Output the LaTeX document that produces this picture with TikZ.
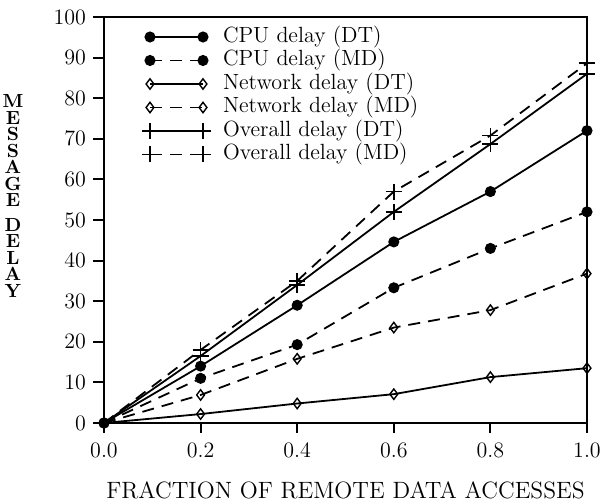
\documentclass[tikz,border=0pt]{standalone}
\usepackage{tikz}
\usetikzlibrary{plotmarks}
\tikzstyle{dtline}=[line width=0.9pt]
\tikzstyle{mdline}=[line width=0.9pt, dash pattern=on 6pt off 4pt]
\tikzstyle{cpumark}=[mark=*, mark size=2.3pt, mark options={solid, fill=black}]
\tikzstyle{netmark}=[mark=diamond, mark size=2.6pt, mark options={solid, fill=white, line width=0.7pt}]
\tikzstyle{allmark}=[mark=+, mark size=4pt, mark options={solid, line width=0.8pt}]
\tikzstyle{ticklabel}=[font=\fontsize{11}{13}\selectfont, inner sep=0pt]
\tikzstyle{keytext}=[font=\fontsize{11}{13}\selectfont, inner sep=0pt, anchor=west]

\begin{document}
\begin{tikzpicture}[x=0.5pt, y=0.5pt, line width=1pt]
\useasboundingbox (0,0) rectangle (601,502);
\node[font=\fontsize{9.5}{8.25}\selectfont\bfseries, align=center, inner sep=0pt] (ylab) at (13,306)
    {M\\E\\S\\S\\A\\G\\E\\[4pt]D\\E\\L\\A\\Y};
\node[font=\fontsize{11.8}{14}\selectfont, inner sep=0pt] (xlab) at (345.5,12) {FRACTION OF REMOTE DATA ACCESSES};

\begin{scope}[shift={(104,79)}, x=241.5pt, y=2.03pt]
    \draw (0,0) rectangle (1,100);
    \draw
        (0,0)--([xshift=-5.5pt]0,0) (0,10)--([xshift=-5.5pt]0,10)
        (0,20)--([xshift=-5.5pt]0,20) (0,30)--([xshift=-5.5pt]0,30)
        (0,40)--([xshift=-5.5pt]0,40) (0,50)--([xshift=-5.5pt]0,50)
        (0,60)--([xshift=-5.5pt]0,60) (0,70)--([xshift=-5.5pt]0,70)
        (0,80)--([xshift=-5.5pt]0,80) (0,90)--([xshift=-5.5pt]0,90)
        (0,100)--([xshift=-5.5pt]0,100)
    ;
    \draw
        (0,0)--([yshift=-5pt]0,0) (0.2,0)--([yshift=-5pt]0.2,0)
        (0.4,0)--([yshift=-5pt]0.4,0) (0.6,0)--([yshift=-5pt]0.6,0)
        (0.8,0)--([yshift=-5pt]0.8,0) (1,0)--([yshift=-5pt]1,0)
    ;
    \node[ticklabel, left] (y0) at ([xshift=-8.5pt]0,0) {0};
    \node[ticklabel, left] (y10) at ([xshift=-8.5pt]0,10) {10};
    \node[ticklabel, left] (y20) at ([xshift=-8.5pt]0,20) {20};
    \node[ticklabel, left] (y30) at ([xshift=-8.5pt]0,30) {30};
    \node[ticklabel, left] (y40) at ([xshift=-8.5pt]0,40) {40};
    \node[ticklabel, left] (y50) at ([xshift=-8.5pt]0,50) {50};
    \node[ticklabel, left] (y60) at ([xshift=-8.5pt]0,60) {60};
    \node[ticklabel, left] (y70) at ([xshift=-8.5pt]0,70) {70};
    \node[ticklabel, left] (y80) at ([xshift=-8.5pt]0,80) {80};
    \node[ticklabel, left] (y90) at ([xshift=-8.5pt]0,90) {90};
    \node[ticklabel, left] (y100) at ([xshift=-8.5pt]0,100) {100};
    \node[ticklabel, below] (x0) at ([yshift=-9.5pt]0,0) {0.0};
    \node[ticklabel, below] (x2) at ([yshift=-9.5pt]0.2,0) {0.2};
    \node[ticklabel, below] (x4) at ([yshift=-9.5pt]0.4,0) {0.4};
    \node[ticklabel, below] (x6) at ([yshift=-9.5pt]0.6,0) {0.6};
    \node[ticklabel, below] (x8) at ([yshift=-9.5pt]0.8,0) {0.8};
    \node[ticklabel, below] (x10) at ([yshift=-9.5pt]1,0) {1.0};
    \draw[dtline, netmark] plot coordinates {(0,0) (0.2,2.2) (0.4,4.8) (0.6,7.1) (0.8,11.3) (1,13.5)};
    \draw[mdline, netmark] plot coordinates {(0,0) (0.2,6.9) (0.4,15.8) (0.6,23.5) (0.8,27.8) (1,36.8)};
    \draw[mdline, cpumark] plot coordinates {(0,0) (0.2,11) (0.4,19.3) (0.6,33.3) (0.8,43) (1,52)};
    \draw[dtline, cpumark] plot coordinates {(0,0) (0.2,14) (0.4,29) (0.6,44.6) (0.8,57) (1,72)};
    \draw[dtline, allmark] plot coordinates {(0,0) (0.2,16.5) (0.4,34) (0.6,52) (0.8,68.7) (1,86)};
    \draw[mdline, allmark] plot coordinates {(0,0) (0.2,18) (0.4,35) (0.6,57) (0.8,70.8) (1,88.6)};
\end{scope}

\draw[dtline, cpumark] plot coordinates {(150,465) (203,465)};
\draw[mdline, cpumark] plot coordinates {(150,441.5) (203,441.5)};
\draw[dtline, netmark] plot coordinates {(150,418) (203,418)};
\draw[mdline, netmark] plot coordinates {(150,394.5) (203,394.5)};
\draw[dtline, allmark] plot coordinates {(150,371) (203,371)};
\draw[mdline, allmark] plot coordinates {(150,347.5) (203,347.5)};
\node[keytext] (kcpudt) at (222,465) {CPU delay (DT)};
\node[keytext] (kcpumd) at (222,441.5) {CPU delay (MD)};
\node[keytext] (knetdt) at (222,418) {Network delay (DT)};
\node[keytext] (knetmd) at (222,394.5) {Network delay (MD)};
\node[keytext] (kalldt) at (222,371) {Overall delay (DT)};
\node[keytext] (kallmd) at (222,347.5) {Overall delay (MD)};
\end{tikzpicture}
\end{document}
